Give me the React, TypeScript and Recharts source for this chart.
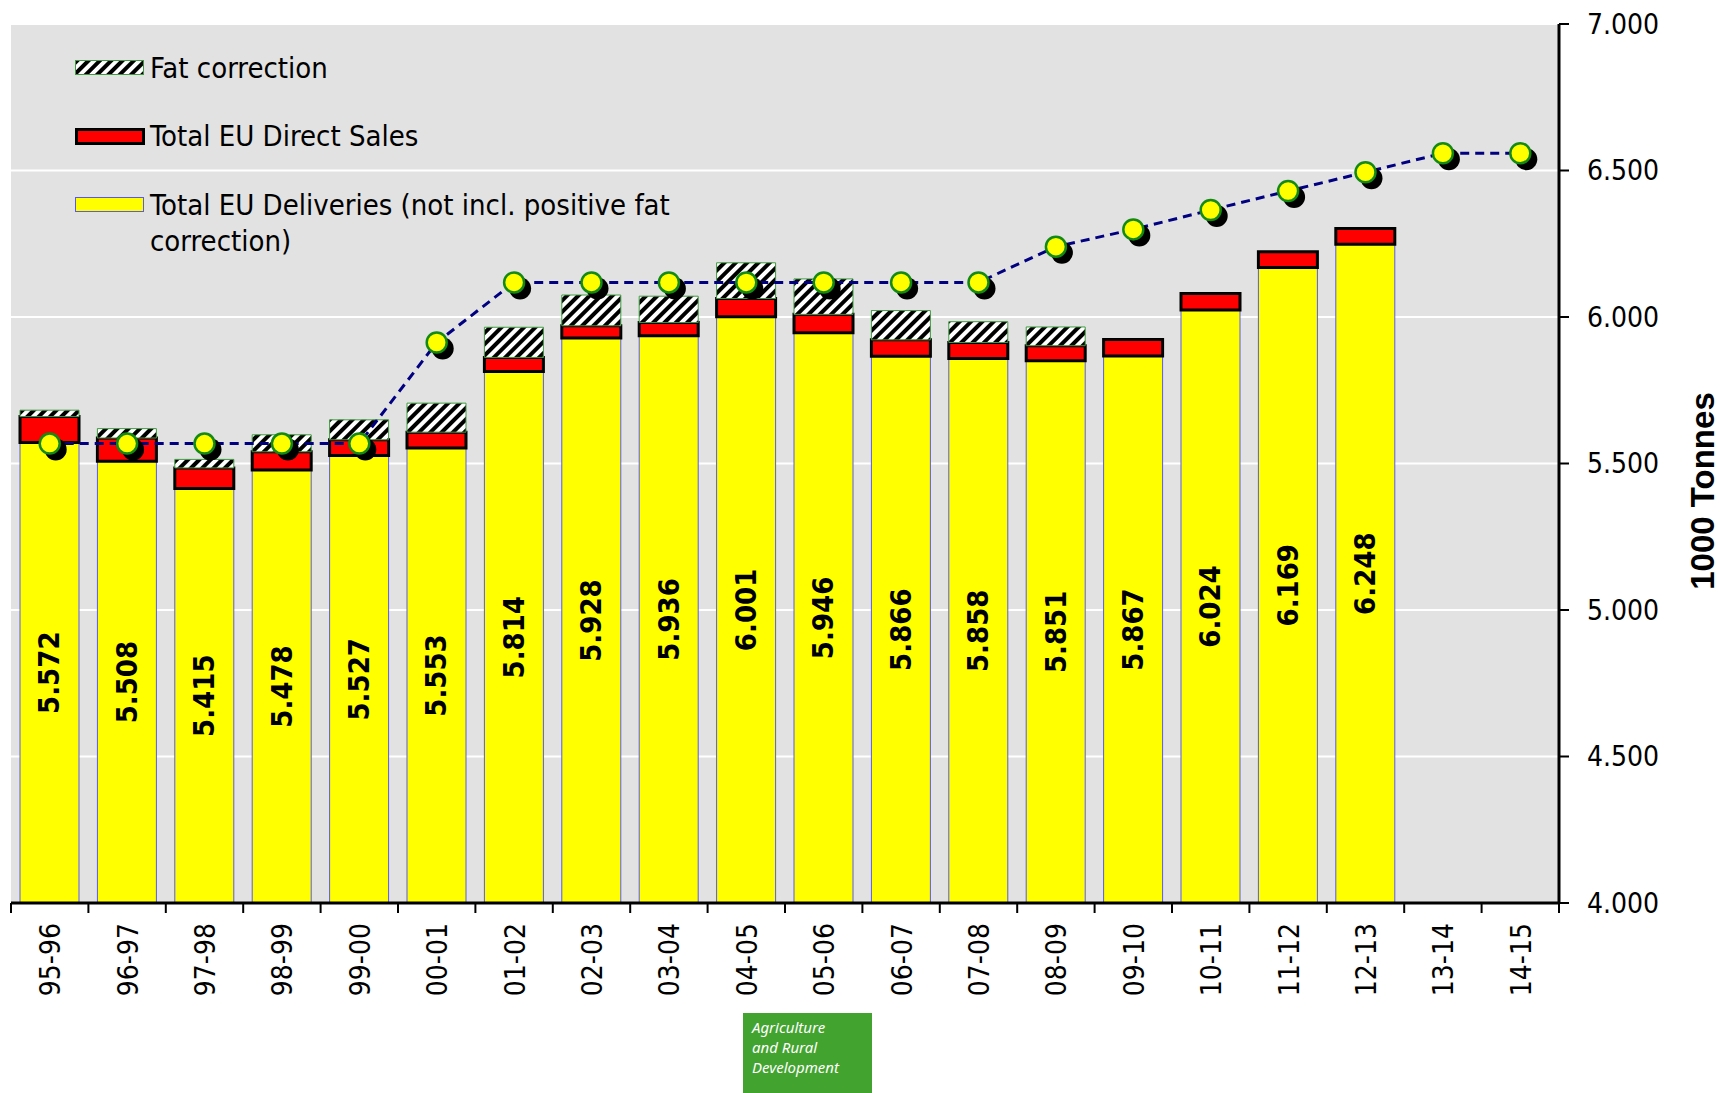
import React from 'react';
import { ComposedChart, Bar, Line, XAxis, YAxis, CartesianGrid, LabelList } from 'recharts';

const seasons = ['95-96', '96-97', '97-98', '98-99', '99-00', '00-01', '01-02', '02-03', '03-04', '04-05', '05-06', '06-07', '07-08', '08-09', '09-10', '10-11', '11-12', '12-13', '13-14', '14-15'];
const deliveries = [5572, 5508, 5415, 5478, 5527, 5553, 5814, 5928, 5936, 6001, 5946, 5866, 5858, 5851, 5867, 6024, 6169, 6248, null, null];
const directSales = [88, 79, 70, 62, 54, 54, 48, 42, 45, 62, 63, 56, 55, 51, 56, 56, 54, 54, null, null];
const fatCorrection = [22, 32, 29, 58, 68, 99, 103, 105, 90, 122, 121, 100, 71, 64, null, null, null, null, null, null];
const quota = [5568, 5568, 5568, 5568, 5568, 5913, 6118, 6118, 6118, 6118, 6118, 6118, 6118, 6240, 6299, 6365, 6430, 6494, 6559, 6559];
const yTicks = [4000, 4500, 5000, 5500, 6000, 6500, 7000];
const seriesNames = ['Fat correction', 'Total EU Direct Sales', 'Total EU Deliveries (not incl. positive fat', 'correction)'];
const axisTitle = '1000 Tonnes';
const logoLines = ['Agriculture', 'and Rural', 'Development'];

const data = seasons.map((s, i) => ({
  season: s,
  deliveries: deliveries[i],
  direct: directSales[i],
  fat: fatCorrection[i],
  quota: quota[i],
}));

const FONT = "'DejaVu Sans Condensed', 'DejaVu Sans', sans-serif";
const fmt = (v: number) => (v / 1000).toFixed(3);

const ValueLabel = (props: any) => {
  const vb = props.viewBox || props;
  const { x, y, width, height } = vb;
  const value = props.value;
  if (value == null || x == null) return null;
  const cx = x + width / 2;
  const cy = y + height / 2;
  return (
    <text x={cx} y={cy} transform={`rotate(-90 ${cx} ${cy})`} textAnchor="middle" dominantBaseline="central"
      fontFamily={FONT} fontWeight="bold" fontSize={29} fill="#000">
      {fmt(value)}
    </text>
  );
};

const QuotaDot = (props: any) => {
  const { cx, cy, index } = props;
  if (cx == null || cy == null) return <g key={`qd${index}`} />;
  return (
    <g key={`qd${index}`}>
      <circle cx={cx + 6} cy={cy + 6} r={11} fill="#000" />
      <circle cx={cx} cy={cy} r={10} fill="#FFFF00" stroke="#138a13" strokeWidth={2.5} />
    </g>
  );
};

const SeasonTick = (props: any) => {
  const { x, y, payload, index } = props;
  const half = payload && payload.offset ? payload.offset : 38.7;
  const axisY = y - 20;
  const last = index === seasons.length - 1;
  return (
    <g>
      <line x1={x - half} x2={x - half} y1={axisY} y2={axisY + 10} stroke="#000" strokeWidth={2} />
      {last && <line x1={x + half} x2={x + half} y1={axisY} y2={axisY + 10} stroke="#000" strokeWidth={2} />}
      <text x={x + 1} y={y} transform={`rotate(-90 ${x + 1} ${y})`} textAnchor="end" dominantBaseline="central"
        fontFamily={FONT} fontSize={28} fill="#000">
        {payload.value}
      </text>
    </g>
  );
};

const HatchSwatch = ({ id }: { id: string }) => (
  <svg width={70} height={16} style={{ display: 'block' }}>
    <defs>
      <pattern id={id} patternUnits="userSpaceOnUse" width={8} height={8} patternTransform="rotate(45)">
        <rect width={8} height={8} fill="#fff" />
        <rect width={4} height={8} fill="#000" />
      </pattern>
    </defs>
    <rect x={0.5} y={0.5} width={68} height={14} fill={`url(#${id})`} stroke="#3f9a3f" strokeWidth={1} />
  </svg>
);

export default function App() {
  return (
    <div className="chartroot" style={{ position: 'absolute', left: 0, top: 0, width: 1720, height: 1093, background: '#fff' }}>
      <style>{`.chartroot text { font-stretch: condensed; }`}</style>
      <ComposedChart width={1720} height={1093} data={data} margin={{ top: 24, left: 11, right: 41, bottom: 80 }} barSize={59}>
        <defs>
          <pattern id="hatchFat" patternUnits="userSpaceOnUse" width={8} height={8} patternTransform="rotate(45)">
            <rect width={8} height={8} fill="#fff" />
            <rect width={4} height={8} fill="#000" />
          </pattern>
        </defs>
        <CartesianGrid vertical={false} horizontal={true} fill="#E2E2E2" fillOpacity={1} stroke="#ffffff" strokeWidth={2} />
        <XAxis dataKey="season" type="category" height={110} interval={0} tickLine={false} tickSize={10} tickMargin={10}
          axisLine={{ stroke: '#000', strokeWidth: 3 }} tick={<SeasonTick />} />
        <YAxis orientation="right" width={120} domain={[4000, 7000]} ticks={yTicks} allowDataOverflow
          tickFormatter={fmt} tickSize={10} tickMargin={18}
          axisLine={{ stroke: '#000', strokeWidth: 3 }} tickLine={{ stroke: '#000', strokeWidth: 2 }}
          tick={{ fontSize: 28, fill: '#000', fontFamily: FONT }} />
        <Bar dataKey="deliveries" stackId="s" fill="#FFFF00" stroke="#5a5ae6" strokeWidth={1} isAnimationActive={false}>
          <LabelList dataKey="deliveries" position="center" content={<ValueLabel />} />
        </Bar>
        <Bar dataKey="direct" stackId="s" fill="#FF0000" stroke="#000" strokeWidth={3} isAnimationActive={false} />
        <Bar dataKey="fat" stackId="s" fill="url(#hatchFat)" stroke="#3f9a3f" strokeWidth={1} isAnimationActive={false} />
        <Line dataKey="quota" type="linear" stroke="#000080" strokeWidth={3} strokeDasharray="9 6"
          dot={QuotaDot} activeDot={false} isAnimationActive={false} />
      </ComposedChart>

      <div style={{ position: 'absolute', left: 0, top: 0, width: 720, height: 260, fontFamily: FONT, fontStretch: 'condensed', fontSize: 29, color: '#000' }}>
        <div style={{ position: 'absolute', left: 75, top: 60 }}><HatchSwatch id="hatchLegend" /></div>
        <div style={{ position: 'absolute', left: 150, top: 50, lineHeight: '36px', whiteSpace: 'nowrap' }}>{seriesNames[0]}</div>
        <div style={{ position: 'absolute', left: 75, top: 128, width: 64, height: 11, background: '#FF0000', border: '3px solid #000' }} />
        <div style={{ position: 'absolute', left: 150, top: 118, lineHeight: '36px', whiteSpace: 'nowrap' }}>{seriesNames[1]}</div>
        <div style={{ position: 'absolute', left: 75, top: 197, width: 67, height: 13, background: '#FFFF00', border: '1px solid #5a5ae6' }} />
        <div style={{ position: 'absolute', left: 150, top: 187, lineHeight: '36px', whiteSpace: 'nowrap' }}>{seriesNames[2]}<br />{seriesNames[3]}</div>
      </div>

      <svg width={1720} height={1093} style={{ position: 'absolute', left: 0, top: 0, pointerEvents: 'none' }}>
        <text x={1702} y={491} transform="rotate(-90 1702 491)" textAnchor="middle" dominantBaseline="central"
          fontFamily="'Liberation Sans', Arial, sans-serif" fontWeight="bold" fontSize={33} fill="#000" style={{ fontStretch: 'normal' }}>
          {axisTitle}
        </text>
      </svg>

      <div style={{ position: 'absolute', left: 743, top: 1013, width: 129, height: 80, background: '#43A32F', color: '#fff',
        fontFamily: "'Noto Sans', 'Open Sans', sans-serif", fontStyle: 'italic', fontSize: 15, lineHeight: '20px', paddingLeft: 9, paddingTop: 4, boxSizing: 'border-box' }}>
        {logoLines.map((l) => <div key={l}>{l}</div>)}
      </div>
    </div>
  );
}
